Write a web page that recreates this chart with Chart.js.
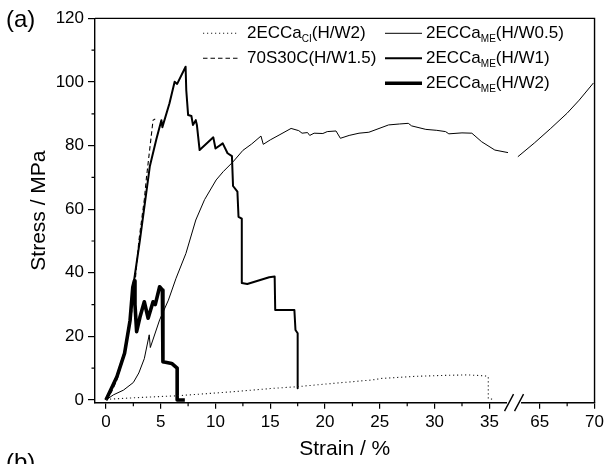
<!DOCTYPE html>
<html>
<head>
<meta charset="utf-8">
<script src="https://cdn.jsdelivr.net/npm/chart.js@4/dist/chart.umd.min.js"></script>
<style>
  html, body { margin: 0; padding: 0; background: #fff; }
  #wrap { width: 607px; height: 464px; position: relative; }
</style>
</head>
<body>
<div id="wrap"><canvas id="c" width="607" height="464"></canvas></div>
<script>
// ---------- DATA (strain %, stress MPa) ----------
const strainCI = [0, 2, 5, 6.4, 10, 11.6, 15, 17.5, 20, 24.3, 25.2, 28, 30.4, 33, 34.6, 34.9, 34.9, 35.5];
const stressCI = [0.2, 0.6, 1.1, 1.3, 2.2, 2.6, 3.6, 4.2, 5.0, 6.3, 6.8, 7.4, 7.7, 7.9, 7.6, 7.3, 0.4, 0.2];

const strain70S = [0, 0.5, 1, 1.5, 2, 2.5, 3.0, 3.5, 3.7, 4.0, 4.2, 4.3, 4.5];
const stress70S = [0, 2.5, 6.3, 12, 20, 31, 50, 63, 70, 79, 85, 88, 88.4];

const strainME05 = [0, 0.67, 1.6, 2.5, 3.0, 3.5, 3.95, 4.05, 4.9, 5.7, 6.4, 7.3, 8.2, 9.0, 10.06, 10.7, 11.6, 12.5, 13.3, 14.15, 14.36, 15.0, 15.8, 16.9, 17.6, 17.9, 18.4, 18.6, 19.0, 19.8, 20.2, 21.0, 21.4, 22.2, 23.1, 24.0, 25.8, 26.8, 27.6, 27.9, 29.2, 30.2, 31.0, 31.3, 32.5, 33.4, 34.3, 35.5, 36.7];
const stressME05 = [0, 1.6, 3.1, 5.5, 8.5, 13, 20.5, 16.5, 25.2, 31.4, 38.3, 46.1, 56.6, 63, 69.2, 71.8, 74.9, 78.5, 80.5, 83, 80.4, 81.8, 83.3, 85.4, 84.7, 83.9, 84.1, 83.2, 83.9, 83.8, 84.4, 84.6, 82.3, 83.2, 83.9, 84.2, 86.5, 86.8, 87.0, 86.2, 85.1, 84.8, 84.4, 83.7, 84.0, 83.9, 81.2, 78.6, 77.8];
const strainME05b = [63.0, 64.5, 66.0, 67.5, 68.6, 69.9];
const stressME05b = [76.5, 80.8, 85.4, 90.2, 94.3, 99.7];

const strainME1 = [0, 1, 1.7, 2.2, 2.5, 3.1, 4.0, 4.6, 5.06, 5.15, 5.8, 6.27, 6.5, 7.27, 7.33, 7.5, 7.8, 7.94, 8.2, 8.3, 8.55, 9.8, 10.0, 10.66, 11.1, 11.5, 11.6, 12.0, 12.1, 12.4, 12.4, 12.9, 14.9, 15.4, 15.45, 17.2, 17.3, 17.5, 17.5];
const stressME1 = [0, 7.5, 15, 25, 36, 50.3, 73.4, 82, 88, 85.8, 93.3, 100.1, 99.4, 104.8, 97.5, 89.6, 89.3, 86.5, 88, 86.5, 78.6, 82.6, 79.1, 80.7, 77.6, 76.7, 67.3, 65.5, 57.6, 57, 36.8, 36.5, 38.6, 38.8, 28.3, 28.3, 22, 21, 3.7];

const strainME2 = [0, 1, 1.7, 2.2, 2.45, 2.6, 2.65, 2.8, 3.1, 3.5, 3.85, 4.3, 4.5, 4.9, 5.15, 5.2, 6.0, 6.5, 6.5, 7.2];
const stressME2 = [0, 7.3, 14.7, 25, 35.5, 37.5, 30, 21.5, 26, 30.9, 25.7, 30.9, 30, 35.6, 34.6, 12, 11.5, 10, 0, 0];

// Axis ticks (real strain values; the axis is broken between 37 and 62.5)
const xMajor = [0, 5, 10, 15, 20, 25, 30, 35, 65, 70];
const xMinor = [2.5, 7.5, 12.5, 17.5, 22.5, 27.5, 32.5, 67.5];
const yMajor = [0, 20, 40, 60, 80, 100, 120];
const yMinor = [10, 30, 50, 70, 90, 110];

const legendMain = ['2ECCa', '70S30C(H/W1.5)', '2ECCa', '2ECCa', '2ECCa'];
const legendSub  = ['CI', '', 'ME', 'ME', 'ME'];
const legendTail = ['(H/W2)', '', '(H/W0.5)', '(H/W1)', '(H/W2)'];

// ---------- broken-axis mapping ----------
const BREAK_SHIFT = 25.4;   // 65 -> 39.6 on the internal linear scale
const BREAK_POS = 37.25;    // where the "//" marks sit (internal units)
function ax(x) { return x > 50 ? x - BREAK_SHIFT : x; }
function pts(xs, ys) { return xs.map((x, i) => ({ x: ax(x), y: ys[i] })); }

const FONT = "'Liberation Sans', Arial, Helvetica, sans-serif";

const base = { pointRadius: 0, tension: 0, fill: false, borderColor: '#000', borderJoinStyle: 'round', borderCapStyle: 'butt' };
const datasets = [
  Object.assign({}, base, { label: 'CI', data: pts(strainCI, stressCI), borderWidth: 1.1, borderDash: [1.2, 2.8], borderColor: '#222' }),
  Object.assign({}, base, { label: '70S', data: pts(strain70S, stress70S), borderWidth: 1.1, borderDash: [4.5, 3] }),
  Object.assign({}, base, { label: 'ME05', data: pts(strainME05, stressME05), borderWidth: 1 }),
  Object.assign({}, base, { label: 'ME05b', data: pts(strainME05b, stressME05b), borderWidth: 1 }),
  Object.assign({}, base, { label: 'ME1', data: pts(strainME1, stressME1), borderWidth: 2 }),
  Object.assign({}, base, { label: 'ME2', data: pts(strainME2, stressME2), borderWidth: 3.6 })
];
const legendStyles = [datasets[0], datasets[1], datasets[2], datasets[4], datasets[5]];
const legendPos = [[0, 0], [0, 1], [1, 0], [1, 1], [1, 2]]; // [column, row]

const extras = {
  id: 'extras',
  afterDraw(chart) {
    const ctx = chart.ctx, a = chart.chartArea;
    const xs = chart.scales.x, ys = chart.scales.y;
    ctx.save();
    // frame (top + right)
    ctx.strokeStyle = '#000'; ctx.lineWidth = 1.4;
    ctx.beginPath();
    ctx.moveTo(a.left, a.top); ctx.lineTo(a.right, a.top); ctx.lineTo(a.right, a.bottom);
    ctx.stroke();
    // minor ticks
    ctx.lineWidth = 1.2;
    ctx.beginPath();
    xMinor.forEach(v => { const p = xs.getPixelForValue(ax(v)); ctx.moveTo(p, a.bottom); ctx.lineTo(p, a.bottom + 3.5); });
    yMinor.forEach(v => { const p = ys.getPixelForValue(v); ctx.moveTo(a.left, p); ctx.lineTo(a.left - 3.5, p); });
    ctx.stroke();
    // axis break
    const bx = xs.getPixelForValue(BREAK_POS);
    ctx.fillStyle = '#fff';
    ctx.fillRect(bx - 7, a.bottom - 3, 14, 6);
    ctx.strokeStyle = '#000'; ctx.lineWidth = 1.4;
    ctx.beginPath();
    [-5, 5].forEach(d => { ctx.moveTo(bx + d - 4.5, a.bottom + 8.5); ctx.lineTo(bx + d + 4.5, a.bottom - 8.5); });
    ctx.stroke();
    // legend
    const colSample = [[203, 238], [385, 422]];
    const colText = [247, 426];
    const rowY = [33.3, 58.3, 83.3];
    legendStyles.forEach((ds, i) => {
      const [c, r] = legendPos[i];
      const y = rowY[r];
      ctx.strokeStyle = ds.borderColor; ctx.lineWidth = ds.borderWidth;
      ctx.setLineDash(ds.borderDash || []);
      ctx.beginPath(); ctx.moveTo(colSample[c][0], y); ctx.lineTo(colSample[c][1], y); ctx.stroke();
      ctx.setLineDash([]);
      ctx.fillStyle = '#000'; ctx.textBaseline = 'middle'; ctx.textAlign = 'left';
      let x = colText[c];
      ctx.font = '17px ' + FONT;
      ctx.fillText(legendMain[i], x, y); x += ctx.measureText(legendMain[i]).width;
      if (legendSub[i]) {
        ctx.font = '10px ' + FONT;
        ctx.fillText(legendSub[i], x, y + 6); x += ctx.measureText(legendSub[i]).width;
      }
      if (legendTail[i]) {
        ctx.font = '17px ' + FONT;
        ctx.fillText(legendTail[i], x, y);
      }
    });
    // panel labels
    ctx.font = '24px ' + FONT; ctx.textBaseline = 'alphabetic'; ctx.textAlign = 'left';
    ctx.fillText('(a)', 6, 27);
    ctx.fillText('(b)', 6, 470);
    ctx.restore();
  }
};

new Chart(document.getElementById('c'), {
  type: 'line',
  data: { datasets },
  options: {
    responsive: false, animation: false, devicePixelRatio: 1,
    layout: { padding: { left: 0, right: 10.4, top: 18.4, bottom: 0 } },
    plugins: { legend: { display: false }, tooltip: { enabled: false } },
    scales: {
      x: {
        type: 'linear', min: -1, max: 44.6,
        afterBuildTicks: s => { s.ticks = xMajor.map(v => ({ value: ax(v) })); },
        afterFit: s => { s.height = 61.3; },
        ticks: { callback: (v, i) => String(xMajor[i]), color: '#000', font: { family: FONT, size: 17 }, padding: 3, maxRotation: 0, autoSkip: false },
        grid: { display: true, drawOnChartArea: false, drawTicks: true, tickLength: 6, color: '#000', lineWidth: 1.2 },
        border: { display: true, color: '#000', width: 1.4 },
        title: { display: true, text: 'Strain / %', color: '#000', font: { family: FONT, size: 21 }, padding: { top: 0, bottom: 2.4 } }
      },
      y: {
        type: 'linear', min: -0.85, max: 120,
        afterBuildTicks: s => { s.ticks = yMajor.map(v => ({ value: v })); },
        afterFit: s => { s.width = 95; },
        ticks: { color: '#000', font: { family: FONT, size: 17 }, padding: 4 },
        grid: { display: true, drawOnChartArea: false, drawTicks: true, tickLength: 7, color: '#000', lineWidth: 1.2 },
        border: { display: true, color: '#000', width: 1.4 },
        title: { display: true, text: 'Stress / MPa', color: '#000', font: { family: FONT, size: 21 }, padding: { top: 26.4, bottom: 0 } }
      }
    }
  },
  plugins: [extras]
});
</script>
</body>
</html>
